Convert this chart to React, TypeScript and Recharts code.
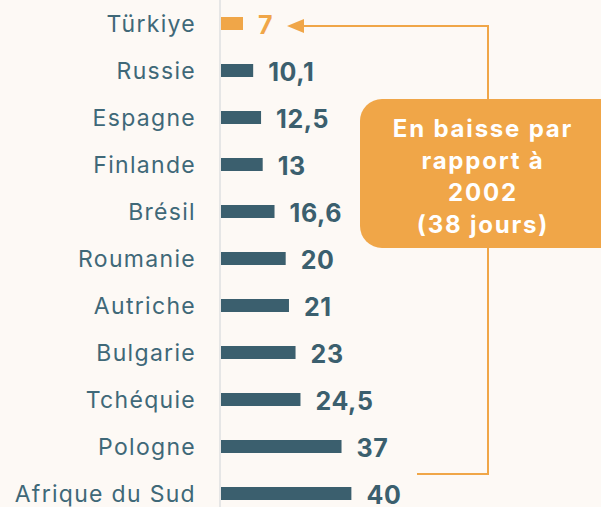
import { Bar, BarChart, Cell, LabelList, XAxis, YAxis } from "recharts";

const countries = [
  "Türkiye",
  "Russie",
  "Espagne",
  "Finlande",
  "Brésil",
  "Roumanie",
  "Autriche",
  "Bulgarie",
  "Tchéquie",
  "Pologne",
  "Afrique du Sud",
];
const days = [7, 10.1, 12.5, 13, 16.6, 20, 21, 23, 24.5, 37, 40];
const highlighted = ["Türkiye"];
const calloutLines = ["En baisse par", "rapport à", "2002", "(38 jours)"];

const BG = "#fdf9f5";
const TEAL = "#3b5f6e";
const LABEL = "#3f6878";
const ORANGE = "#f0a648";
const FONT = "Inter, 'Open Sans', sans-serif";

const rows = countries.map((name, i) => ({ name, value: days[i] }));

function CountryTick(props: any) {
  const { x, y, payload } = props;
  return (
    <text
      x={x - 16}
      y={y}
      textAnchor="end"
      dominantBaseline="central"
      fontFamily={FONT}
      fontSize={23}
      letterSpacing={1.3}
      fill={LABEL}
    >
      {payload.value}
    </text>
  );
}

function ValueLabel(props: any) {
  const { x, y, width, height, index } = props;
  const hot = highlighted.includes(countries[index]);
  return (
    <text
      x={x + width + 15}
      y={y + height / 2 + 1}
      dominantBaseline="central"
      fontFamily={FONT}
      fontWeight={700}
      fontSize={25}
      letterSpacing={0.6}
      fill={hot ? ORANGE : TEAL}
    >
      {String(days[index]).replace(".", ",")}
    </text>
  );
}

export default function App() {
  return (
    <div
      style={{
        position: "fixed",
        left: 0,
        top: 0,
        width: 601,
        height: 507,
        overflow: "hidden",
        background: BG,
      }}
    >
      <BarChart
        width={601}
        height={517}
        data={rows}
        layout="vertical"
        margin={{ top: 0, right: 0, bottom: 0, left: 0 }}
      >
        <XAxis type="number" hide domain={[0, 116]} />
        <YAxis
          type="category"
          dataKey="name"
          width={220}
          tickLine={false}
          axisLine={{ stroke: "#e6e6e6", strokeWidth: 2 }}
          tick={<CountryTick />}
          interval={0}
        />
        <Bar dataKey="value" barSize={13} isAnimationActive={false}>
          {rows.map((r) => (
            <Cell key={r.name} fill={highlighted.includes(r.name) ? ORANGE : TEAL} />
          ))}
          <LabelList dataKey="value" content={<ValueLabel />} />
        </Bar>
      </BarChart>
      <svg
        width={601}
        height={507}
        style={{ position: "absolute", left: 0, top: 0, pointerEvents: "none" }}
      >
        <polyline
          points="300,26 488,26 488,100"
          fill="none"
          stroke={ORANGE}
          strokeWidth={2}
        />
        <polyline
          points="488,247 488,474 417,474"
          fill="none"
          stroke={ORANGE}
          strokeWidth={2}
        />
        <polygon points="287,26 304,19 304,33" fill={ORANGE} />
        <rect x={360} y={99} width={262} height={149} rx={22} fill={ORANGE} />
        {calloutLines.map((line, i) => (
          <text
            key={line}
            x={483}
            y={128 + i * 32}
            textAnchor="middle"
            dominantBaseline="central"
            fontFamily={FONT}
            fontWeight={700}
            fontSize={24}
            letterSpacing={1.8}
            fill="#ffffff"
          >
            {line}
          </text>
        ))}
      </svg>
    </div>
  );
}
